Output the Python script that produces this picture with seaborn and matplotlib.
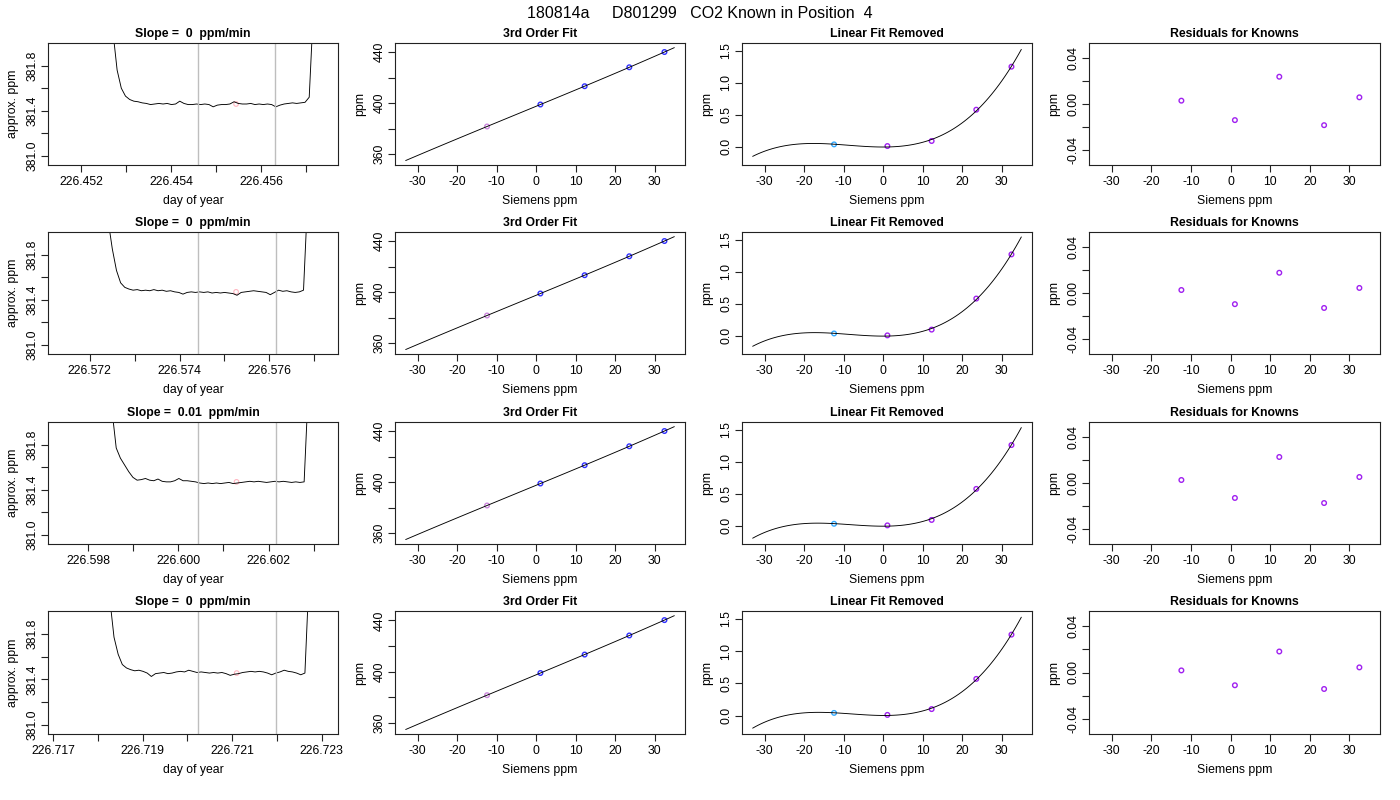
import numpy as np
import seaborn as sns
import matplotlib
matplotlib.use('Agg')
import matplotlib.pyplot as plt

suptitle = '180814a     D801299   CO2 Known in Position  4'
slopes = ['0', '0', '0.01', '0']

# analyser trace for each run: first day, one reading every 8 s
trace_start = [226.45271, 226.57241, 226.59853, 226.71827]
trace_step_s = 8
trace_1 = [382.10, 381.76, 381.60, 381.53, 381.50, 381.485, 381.48, 381.47, 381.465, 381.455,
           381.46, 381.465, 381.46, 381.465, 381.455, 381.46, 381.485, 381.465, 381.455, 381.455,
           381.46, 381.455, 381.46, 381.455, 381.435, 381.45, 381.455, 381.455, 381.46, 381.48,
           381.465, 381.46, 381.46, 381.465, 381.455, 381.46, 381.455, 381.46, 381.455, 381.435,
           381.45, 381.46, 381.465, 381.47, 381.465, 381.47, 381.475, 381.52, 382.30]
trace_2 = [382.10, 381.85, 381.66, 381.55, 381.51, 381.495, 381.485, 381.49, 381.48, 381.485,
           381.48, 381.49, 381.48, 381.485, 381.475, 381.48, 381.47, 381.465, 381.45, 381.465,
           381.47, 381.465, 381.47, 381.465, 381.47, 381.46, 381.465, 381.46, 381.465, 381.46,
           381.455, 381.44, 381.465, 381.47, 381.475, 381.48, 381.475, 381.47, 381.465, 381.445,
           381.465, 381.485, 381.475, 381.48, 381.47, 381.465, 381.47, 381.485, 382.30]
trace_3 = [382.10, 381.77, 381.68, 381.62, 381.56, 381.51, 381.485, 381.49, 381.50, 381.485,
           381.48, 381.495, 381.475, 381.47, 381.47, 381.48, 381.50, 381.48, 381.48, 381.475,
           381.47, 381.46, 381.455, 381.46, 381.455, 381.46, 381.455, 381.46, 381.465, 381.455,
           381.46, 381.465, 381.47, 381.475, 381.47, 381.475, 381.47, 381.465, 381.47, 381.475,
           381.47, 381.475, 381.47, 381.465, 381.47, 381.465, 381.47, 382.30]
trace_4 = [382.10, 381.77, 381.62, 381.53, 381.50, 381.485, 381.475, 381.48, 381.47, 381.455,
           381.425, 381.45, 381.455, 381.46, 381.45, 381.455, 381.465, 381.47, 381.465, 381.48,
           381.47, 381.46, 381.465, 381.46, 381.455, 381.46, 381.455, 381.46, 381.45, 381.435,
           381.445, 381.45, 381.46, 381.465, 381.47, 381.465, 381.47, 381.465, 381.455, 381.44,
           381.455, 381.465, 381.48, 381.47, 381.465, 381.455, 381.44, 381.455, 382.30]
traces = [trace_1, trace_2, trace_3, trace_4]

# averaging window and its mean
window_start = [226.45459, 226.57441, 226.60043, 226.72024]
window_end = [226.45631, 226.57615, 226.60217, 226.72198]
mean_day = [226.45544, 226.57526, 226.60129, 226.72110]
mean_ppm = [381.46, 381.47, 381.47, 381.455]
day_lims = [(226.45127, 226.45770), (226.57107, 226.57753),
            (226.59711, 226.60354), (226.71689, 226.72336)]

# knowns
siemens = [-12.4, 1.1, 12.3, 23.6, 32.5]
known_ppm = [381.6, 398.9, 413.3, 428.2, 440.2]
lin_removed = [[0.036, 0.010, 0.089, 0.578, 1.250],
               [0.035, 0.005, 0.095, 0.580, 1.270],
               [0.030, 0.005, 0.090, 0.575, 1.260],
               [0.041, 0.010, 0.100, 0.568, 1.254]]
residuals = [[0.0029, -0.0140, 0.0237, -0.0184, 0.0058],
             [0.0026, -0.0097, 0.0176, -0.0130, 0.0044],
             [0.0026, -0.0130, 0.0226, -0.0174, 0.0052],
             [0.0018, -0.0110, 0.0181, -0.0142, 0.0044]]
fit_range = (-33, 35)

sns.set_style('ticks')
plt.rcParams['font.family'] = ['Liberation Sans', 'DejaVu Sans']
plt.rcParams['axes.unicode_minus'] = False
plt.rcParams['axes.linewidth'] = 0.8
plt.rcParams['axes.edgecolor'] = '#222222'

FS = 8.8
MS = 11
fig = plt.figure(figsize=(14, 8), dpi=100)
fig.suptitle(suptitle, y=0.993, fontsize=11.5, color='black')

cols_px = [(48, 338), (395, 685), (742, 1032), (1089, 1380)]
rows_px = [(43, 165), (232, 354), (422, 544), (611, 734)]


def make_ax(r, c):
    l, rr = cols_px[c]
    t, b = rows_px[r]
    ax = fig.add_axes([l / 1400, 1 - b / 800, (rr - l) / 1400, (b - t) / 800])
    for s in ax.spines.values():
        s.set_visible(True)
    ax.tick_params(direction='out', length=5, width=0.8, labelsize=FS, pad=3,
                   color='#222222', labelcolor='black')
    ax.tick_params(axis='y', pad=2)
    return ax


def set_yticks(ax, ticks, labels):
    ax.set_yticks(ticks)
    ax.set_yticklabels(labels, rotation=90, va='center')


def dress(ax, title, xlabel, ylabel):
    ax.set_title(title, fontsize=FS, fontweight='bold', pad=4, color='black')
    ax.set_xlabel(xlabel, fontsize=FS, labelpad=5, color='black')
    ax.set_ylabel(ylabel, fontsize=FS, labelpad=5, color='black')


def circles(ax, x, y, col):
    sns.scatterplot(x=x, y=y, ax=ax, marker='o', s=MS, color=col,
                    facecolor='none', edgecolor=col, linewidth=1)


fit_ticks = [-30, -20, -10, 0, 10, 20, 30]
fit_xlim = (-35.7, 37.7)

for r in range(4):
    # raw trace
    ax = make_ax(r, 0)
    vals = traces[r]
    days = trace_start[r] + np.arange(len(vals)) * trace_step_s / 86400
    sns.lineplot(x=days, y=vals, ax=ax, color='black', lw=0.65, estimator=None)
    ax.axvline(window_start[r], color='#bebebe', lw=1)
    ax.axvline(window_end[r], color='#bebebe', lw=1)
    sns.scatterplot(x=[mean_day[r]], y=[mean_ppm[r]], ax=ax, marker='o', s=MS,
                    color='#ffb6c1', facecolor='none', edgecolor='#ffb6c1', linewidth=0.8)
    lo, hi = day_lims[r]
    ax.set_xlim(lo, hi)
    ax.set_ylim(380.92, 382.0)
    ticks = np.arange(np.ceil(lo * 1000), np.floor(hi * 1000) + 1) / 1000
    ax.set_xticks(ticks)
    ax.set_xticklabels([f'{t:.3f}' if i % 2 == 0 else '' for i, t in enumerate(ticks)])
    set_yticks(ax, [381.0, 381.2, 381.4, 381.6, 381.8], ['381.0', '', '381.4', '', '381.8'])
    dress(ax, f'Slope =  {slopes[r]}  ppm/min', 'day of year', 'approx. ppm')

    # 3rd order fit
    ax = make_ax(r, 1)
    ax.set_xlim(*fit_range)
    sns.regplot(x=np.array(siemens), y=np.array(known_ppm), order=3, ci=None, scatter=False,
                truncate=False, ax=ax, line_kws=dict(color='black', lw=0.65))
    circles(ax, siemens[:1], known_ppm[:1], '#cc88dd')
    circles(ax, siemens[1:], known_ppm[1:], '#3030ff')
    ax.set_xlim(*fit_xlim)
    ax.set_ylim(351.3, 447.3)
    ax.set_xticks(fit_ticks)
    ax.set_xticklabels([str(t) for t in fit_ticks])
    set_yticks(ax, [360, 380, 400, 420, 440], ['360', '', '400', '', '440'])
    dress(ax, '3rd Order Fit', 'Siemens ppm', 'ppm')

    # linear part removed
    ax = make_ax(r, 2)
    ax.set_xlim(*fit_range)
    sns.regplot(x=np.array(siemens), y=np.array(lin_removed[r]), order=3, ci=None, scatter=False,
                truncate=False, ax=ax, line_kws=dict(color='black', lw=0.65))
    circles(ax, siemens[:1], lin_removed[r][:1], '#33aaff')
    circles(ax, siemens[1:], lin_removed[r][1:], '#a020f0')
    ax.set_xlim(*fit_xlim)
    ax.set_ylim(-0.286, 1.62)
    ax.set_xticks(fit_ticks)
    ax.set_xticklabels([str(t) for t in fit_ticks])
    set_yticks(ax, [0, 0.5, 1.0, 1.5], ['0.0', '0.5', '1.0', '1.5'])
    dress(ax, 'Linear Fit Removed', 'Siemens ppm', 'ppm')

    # residuals
    ax = make_ax(r, 3)
    circles(ax, siemens, residuals[r], '#a020f0')
    ax.set_xlim(*fit_xlim)
    ax.set_ylim(-0.053, 0.053)
    ax.set_xticks(fit_ticks)
    ax.set_xticklabels([str(t) for t in fit_ticks])
    set_yticks(ax, [-0.04, -0.02, 0, 0.02, 0.04], ['-0.04', '', '0.00', '', '0.04'])
    dress(ax, 'Residuals for Knowns', 'Siemens ppm', 'ppm')

fig.savefig('out.png', dpi=100)
